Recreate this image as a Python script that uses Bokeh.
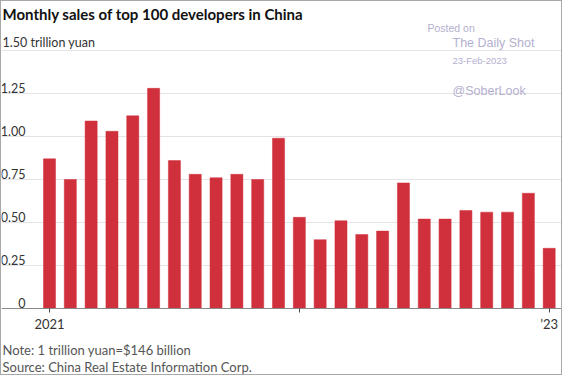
from bokeh.plotting import figure
from bokeh.models import Label, FixedTicker, Range1d, ColumnDataSource, Grid
from bokeh.core.properties import value
from bokeh.embed import file_html
from bokeh.resources import INLINE

months = ["Jan 2021", "Feb 2021", "Mar 2021", "Apr 2021", "May 2021", "Jun 2021",
          "Jul 2021", "Aug 2021", "Sep 2021", "Oct 2021", "Nov 2021", "Dec 2021",
          "Jan 2022", "Feb 2022", "Mar 2022", "Apr 2022", "May 2022", "Jun 2022",
          "Jul 2022", "Aug 2022", "Sep 2022", "Oct 2022", "Nov 2022", "Dec 2022",
          "Jan 2023"]
sales = [0.87, 0.75, 1.09, 1.03, 1.12, 1.28, 0.86, 0.78, 0.76, 0.78, 0.75, 0.99,
         0.53, 0.40, 0.51, 0.43, 0.45, 0.73, 0.52, 0.52, 0.57, 0.56, 0.56, 0.67,
         0.35]
y_ticks = [0, 0.25, 0.5, 0.75, 1.0, 1.25, 1.5]
y_tick_labels = ["0", "0.25", "0.50", "0.75", "1.00", "1.25", "1.50 trillion yuan"]
x_tick_index = [0, 12, 24]
x_tick_labels = ["2021", "", "\u201923"]

title_text = "Monthly sales of top 100 developers in China"
note_text = "Note: 1 trillion yuan=$146 billion"
source_text = "Source: China Real Estate Information Corp."

FONT = "Lato"
BAR = "#d0303c"

W, H = 562, 375
ZERO_Y = 307          # pixel row of the zero line (from top of plot)
PX_PER_UNIT = 172.0
PX_PER_BAR = 20.82
x0 = -48 / PX_PER_BAR
x1 = x0 + W / PX_PER_BAR
y0 = -(H - ZERO_Y) / PX_PER_UNIT
y1 = ZERO_Y / PX_PER_UNIT

src = ColumnDataSource(dict(x=list(range(len(sales))), month=months, sales=sales))

p = figure(width=W, height=H, output_backend="svg", toolbar_location=None,
           x_range=Range1d(x0, x1), y_range=Range1d(y0, y1),
           y_axis_location=None, min_border_left=0, min_border_right=0,
           min_border_top=0, min_border_bottom=0)
p.styles = {"border": "1px solid #a8a8a8"}
p.outline_line_color = None
p.background_fill_color = "white"
p.border_fill_color = "white"
p.xgrid.visible = False
for g in p.ygrid:
    g.visible = False
p.add_layout(Grid(dimension=1, ticker=FixedTicker(ticks=y_ticks[1:]),
                  grid_line_color="#e4e4e4", grid_line_width=1))

p.vbar(x="x", top="sales", bottom=0, width=0.58, source=src,
       fill_color=BAR, line_color=BAR, line_width=0.5)

ax = p.xaxis[0]
ax.fixed_location = 0
ax.ticker = FixedTicker(ticks=x_tick_index)
ax.major_label_overrides = {i: l for i, l in zip(x_tick_index, x_tick_labels)}
ax.axis_line_color = "#8a8a8a"
ax.axis_line_width = 1
ax.major_tick_line_color = "#444444"
ax.major_tick_out = 4
ax.major_tick_in = 0
ax.minor_tick_line_color = None
ax.major_label_text_font = FONT
ax.major_label_text_font_size = "13px"
ax.major_label_text_color = "#333333"
ax.major_label_standoff = 3

# y tick labels drawn inside the plot, above gridlines
lx = x0 + 24 / PX_PER_BAR
p.text(x=[lx] * 6, y=y_ticks[:6], text=y_tick_labels[:6], text_align="right",
       text_baseline="bottom", y_offset=-1, text_font=value(FONT),
       text_font_size="12.5px", text_color="#333333")
p.text(x=[x0 + 1 / PX_PER_BAR], y=[y_ticks[6]], text=[y_tick_labels[6]],
       text_align="left", text_baseline="bottom", y_offset=-1,
       text_font=value(FONT), text_font_size="12.5px", text_color="#333333")

def lab(text, x, y_from_top, size, color, font=FONT, style="normal"):
    p.add_layout(Label(x=x, y=H - y_from_top, x_units="screen", y_units="screen",
                       text=text, text_font=font, text_font_size=size,
                       text_color=color, text_font_style=style,
                       text_baseline="middle"))

lab(title_text, 1, 12, "15px", "#111111", style="bold")
lab(note_text, 1, 348, "13px", "#555555")
lab(source_text, 1, 365, "13px", "#555555")

WM = "#b4b0cf"
lab("Posted on", 426, 26, "10.5px", WM, font="Liberation Sans")
lab("The Daily Shot", 451, 41.7, "12.5px", WM, font="Liberation Sans")
lab("23-Feb-2023", 451, 59, "9.5px", WM, font="Liberation Sans")
lab("@SoberLook", 451, 89, "12.5px", WM, font="Liberation Sans")

open("out.html", "w").write(file_html(p, INLINE))
